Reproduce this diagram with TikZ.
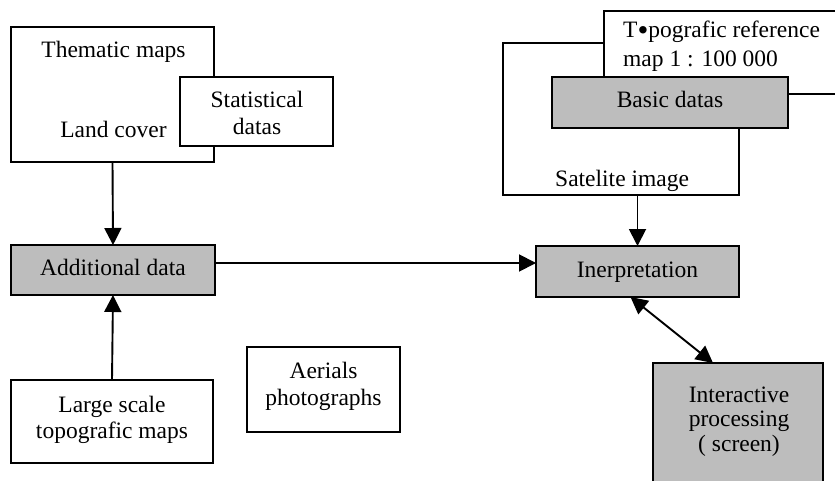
\documentclass[tikz,border=0pt]{standalone}
\usepackage{fontspec}
\setmainfont{Liberation Serif}
\usetikzlibrary{arrows.meta}
\definecolor{boxgray}{gray}{0.74}
\tikzset{
  plainbox/.style={draw=black, line width=1.9pt, fill=white, rectangle, inner sep=0pt, outer sep=0pt},
  graybox/.style={plainbox, fill=boxgray},
  txt/.style={inner sep=0pt, anchor=base, font=\fontsize{23.5}{27}\selectfont},
  txtl/.style={txt, anchor=base west},
  arr/.style={line width=1.9pt, -{Triangle[length=17pt,width=17pt]}},
  darr/.style={line width=1.9pt, {Triangle[length=17pt,width=17pt]}-{Triangle[length=17pt,width=17pt]}}
}
\begin{document}
\begin{tikzpicture}[x=1pt,y=-1pt]
\useasboundingbox (0,0) rectangle (835,481);
\fill[white] (0,0) rectangle (835,481);
% left column
\node[plainbox, minimum width=203pt, minimum height=135pt] (thematic) at (112.5,94.5) {};
\node[plainbox, minimum width=153pt, minimum height=69pt] (stat) at (256.5,111.5) {};
\node[txt] (tthem) at (113.5,58) {Thematic maps};
\node[txt] (tland) at (113.5,138) {Land cover};
\node[txt] (tstat1) at (257,108) {Statistical};
\node[txt] (tstat2) at (257,135) {datas};

\node[graybox, minimum width=204pt, minimum height=50pt] (additional) at (113,270) {};
\node[txt] (tadd) at (113,275) {Additional data};

\node[plainbox, minimum width=202pt, minimum height=83pt] (large) at (112,421.5) {};
\node[txt] (tlarge1) at (112,412) {Large scale};
\node[txt] (tlarge2) at (112,438) {topografic maps};

\node[plainbox, minimum width=153pt, minimum height=85pt] (aerials) at (323.5,389.5) {};
\node[txt] (taer1) at (323.5,378) {Aerials};
\node[txt] (taer2) at (323.5,405) {photographs};

% right column
\node[plainbox, minimum width=236pt, minimum height=152pt] (sat) at (621,119) {};
\node[plainbox, minimum width=246pt, minimum height=83pt] (topo) at (727,52.5) {};
\node[graybox, minimum width=236pt, minimum height=51pt] (basic) at (670,102.5) {};
\node[txtl] (ttopo1) at (623,38) {T\raisebox{-2.5pt}{\fontsize{31}{27}\selectfont •}pografic reference};
\node[txtl] (ttopo2) at (623,67) {map 1 : 100 000};
\node[txt] (tbasic) at (670,108) {Basic datas};
\node[txtl] (tsat) at (555,187) {Satelite image};

\node[graybox, minimum width=203pt, minimum height=51pt] (interp) at (637.5,271.5) {};
\node[txt] (tinterp) at (637.5,277) {Inerpretation};

\node[graybox, minimum width=170pt, minimum height=135pt] (inter) at (738,430.5) {};
\node[txt] (tinter1) at (739,402) {Interactive};
\node[txt] (tinter2) at (739,426) {processing};
\node[txt] (tinter3) at (739,451) {( screen)};

% connectors
\draw[arr] (thematic.south) -- (additional.north);
\draw[arr] (large.north) -- (additional.south);
\coordinate (hstart) at ([yshift=7pt]additional.east);
\draw[arr] (hstart) -- (interp.west |- hstart);
\draw[arr] (interp.north |- sat.south) -- (interp.north);
\draw[darr] ([xshift=-7pt]interp.south) -- ([xshift=-25pt]inter.north);
\end{tikzpicture}
\end{document}
